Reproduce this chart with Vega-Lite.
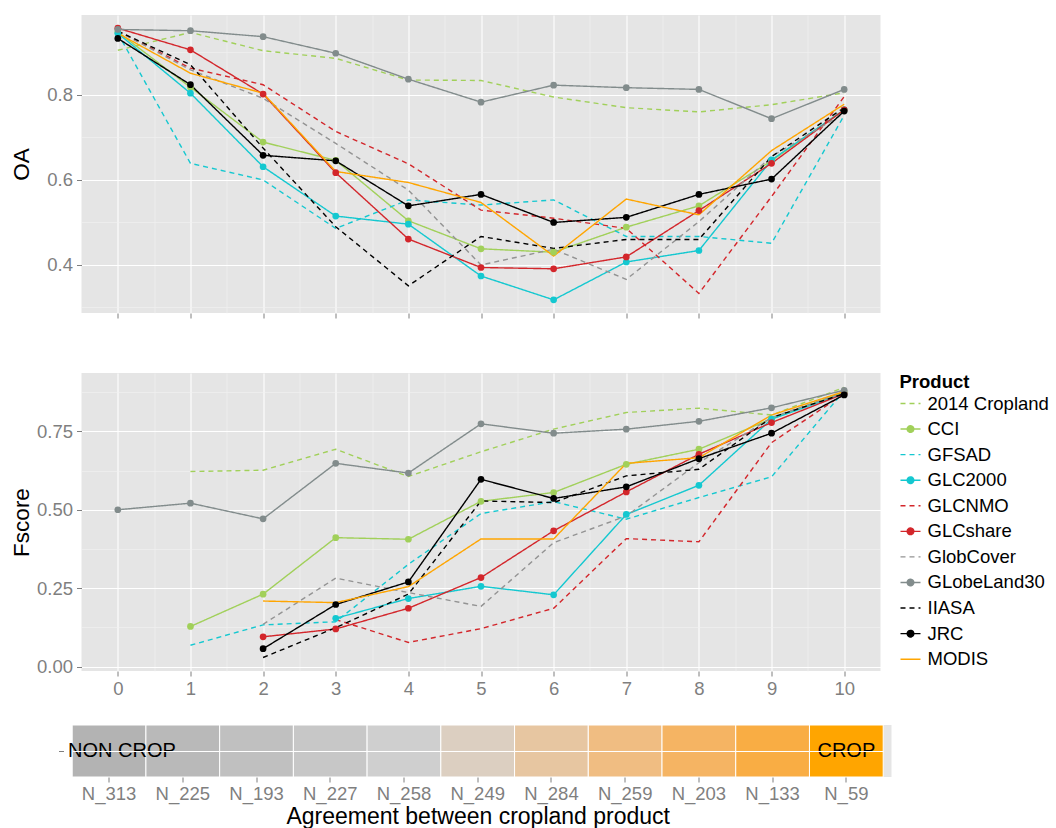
{
  "$schema": "https://vega.github.io/schema/vega-lite/v6.json",
  "padding": {"left": 10.5, "top": 15, "right": 0, "bottom": 0},
  "background": "#ffffff",
  "config": {
    "font": "Liberation Sans",
    "view": {"fill": "#e5e5e5", "stroke": null},
    "axis": {"domain": false, "tickColor": "#7f7f7f", "tickSize": 5, "tickWidth": 1, "labelColor": "#7f7f7f", "labelFontSize": 18.5, "labelFont": "Liberation Sans", "labelPadding": 4, "gridColor": "#ffffff", "gridWidth": 1.1, "titleFont": "Liberation Sans", "titleFontSize": 22.5, "titleFontWeight": "normal", "titleColor": "#000000"},
    "legend": {"titleFont": "Liberation Sans", "titleFontSize": 18.5, "titleFontWeight": "bold", "titleColor": "#000000", "labelFont": "Liberation Sans", "labelFontSize": 18.5, "labelColor": "#000000", "symbolType": "stroke", "symbolSize": 400, "symbolStrokeWidth": 1.4, "rowPadding": 4.57, "titlePadding": 1, "offset": 19, "labelOffset": 6, "padding": 0}
  },
  "datasets": {
    "acc": [
      {"Product": "2014 Cropland", "Agreement": 0, "OA": 0.905, "Fscore": null},
      {"Product": "2014 Cropland", "Agreement": 1, "OA": 0.947, "Fscore": 0.622},
      {"Product": "2014 Cropland", "Agreement": 2, "OA": 0.904, "Fscore": 0.626},
      {"Product": "2014 Cropland", "Agreement": 3, "OA": 0.886, "Fscore": 0.693},
      {"Product": "2014 Cropland", "Agreement": 4, "OA": 0.835, "Fscore": 0.606},
      {"Product": "2014 Cropland", "Agreement": 5, "OA": 0.834, "Fscore": 0.685},
      {"Product": "2014 Cropland", "Agreement": 6, "OA": 0.795, "Fscore": 0.757},
      {"Product": "2014 Cropland", "Agreement": 7, "OA": 0.770, "Fscore": 0.810},
      {"Product": "2014 Cropland", "Agreement": 8, "OA": 0.760, "Fscore": 0.824},
      {"Product": "2014 Cropland", "Agreement": 9, "OA": 0.777, "Fscore": 0.802},
      {"Product": "2014 Cropland", "Agreement": 10, "OA": 0.805, "Fscore": 0.890},
      {"Product": "CCI", "Agreement": 0, "OA": 0.948, "Fscore": null},
      {"Product": "CCI", "Agreement": 1, "OA": 0.818, "Fscore": 0.128},
      {"Product": "CCI", "Agreement": 2, "OA": 0.689, "Fscore": 0.231},
      {"Product": "CCI", "Agreement": 3, "OA": 0.646, "Fscore": 0.411},
      {"Product": "CCI", "Agreement": 4, "OA": 0.504, "Fscore": 0.406},
      {"Product": "CCI", "Agreement": 5, "OA": 0.438, "Fscore": 0.527},
      {"Product": "CCI", "Agreement": 6, "OA": 0.430, "Fscore": 0.555},
      {"Product": "CCI", "Agreement": 7, "OA": 0.489, "Fscore": 0.645},
      {"Product": "CCI", "Agreement": 8, "OA": 0.539, "Fscore": 0.693},
      {"Product": "CCI", "Agreement": 9, "OA": 0.645, "Fscore": 0.790},
      {"Product": "CCI", "Agreement": 10, "OA": 0.765, "Fscore": 0.875},
      {"Product": "GFSAD", "Agreement": 0, "OA": 0.945, "Fscore": null},
      {"Product": "GFSAD", "Agreement": 1, "OA": 0.639, "Fscore": 0.068},
      {"Product": "GFSAD", "Agreement": 2, "OA": 0.600, "Fscore": 0.133},
      {"Product": "GFSAD", "Agreement": 3, "OA": 0.486, "Fscore": 0.143},
      {"Product": "GFSAD", "Agreement": 4, "OA": 0.553, "Fscore": 0.326},
      {"Product": "GFSAD", "Agreement": 5, "OA": 0.541, "Fscore": 0.488},
      {"Product": "GFSAD", "Agreement": 6, "OA": 0.553, "Fscore": 0.526},
      {"Product": "GFSAD", "Agreement": 7, "OA": 0.467, "Fscore": 0.470},
      {"Product": "GFSAD", "Agreement": 8, "OA": 0.467, "Fscore": 0.539},
      {"Product": "GFSAD", "Agreement": 9, "OA": 0.451, "Fscore": 0.605},
      {"Product": "GFSAD", "Agreement": 10, "OA": 0.752, "Fscore": 0.879},
      {"Product": "GLC2000", "Agreement": 0, "OA": 0.945, "Fscore": null},
      {"Product": "GLC2000", "Agreement": 1, "OA": 0.804, "Fscore": null},
      {"Product": "GLC2000", "Agreement": 2, "OA": 0.631, "Fscore": null},
      {"Product": "GLC2000", "Agreement": 3, "OA": 0.515, "Fscore": 0.154},
      {"Product": "GLC2000", "Agreement": 4, "OA": 0.496, "Fscore": 0.217},
      {"Product": "GLC2000", "Agreement": 5, "OA": 0.374, "Fscore": 0.256},
      {"Product": "GLC2000", "Agreement": 6, "OA": 0.318, "Fscore": 0.229},
      {"Product": "GLC2000", "Agreement": 7, "OA": 0.407, "Fscore": 0.485},
      {"Product": "GLC2000", "Agreement": 8, "OA": 0.434, "Fscore": 0.578},
      {"Product": "GLC2000", "Agreement": 9, "OA": 0.647, "Fscore": 0.789},
      {"Product": "GLC2000", "Agreement": 10, "OA": 0.765, "Fscore": 0.870},
      {"Product": "GLCNMO", "Agreement": 0, "OA": 0.950, "Fscore": null},
      {"Product": "GLCNMO", "Agreement": 1, "OA": 0.863, "Fscore": null},
      {"Product": "GLCNMO", "Agreement": 2, "OA": 0.824, "Fscore": null},
      {"Product": "GLCNMO", "Agreement": 3, "OA": 0.714, "Fscore": 0.150},
      {"Product": "GLCNMO", "Agreement": 4, "OA": 0.638, "Fscore": 0.077},
      {"Product": "GLCNMO", "Agreement": 5, "OA": 0.529, "Fscore": 0.121},
      {"Product": "GLCNMO", "Agreement": 6, "OA": 0.510, "Fscore": 0.186},
      {"Product": "GLCNMO", "Agreement": 7, "OA": 0.486, "Fscore": 0.408},
      {"Product": "GLCNMO", "Agreement": 8, "OA": 0.333, "Fscore": 0.398},
      {"Product": "GLCNMO", "Agreement": 9, "OA": 0.561, "Fscore": 0.714},
      {"Product": "GLCNMO", "Agreement": 10, "OA": 0.796, "Fscore": 0.870},
      {"Product": "GLCshare", "Agreement": 0, "OA": 0.957, "Fscore": null},
      {"Product": "GLCshare", "Agreement": 1, "OA": 0.906, "Fscore": null},
      {"Product": "GLCshare", "Agreement": 2, "OA": 0.802, "Fscore": 0.095},
      {"Product": "GLCshare", "Agreement": 3, "OA": 0.617, "Fscore": 0.120},
      {"Product": "GLCshare", "Agreement": 4, "OA": 0.461, "Fscore": 0.186},
      {"Product": "GLCshare", "Agreement": 5, "OA": 0.394, "Fscore": 0.284},
      {"Product": "GLCshare", "Agreement": 6, "OA": 0.391, "Fscore": 0.433},
      {"Product": "GLCshare", "Agreement": 7, "OA": 0.419, "Fscore": 0.557},
      {"Product": "GLCshare", "Agreement": 8, "OA": 0.528, "Fscore": 0.677},
      {"Product": "GLCshare", "Agreement": 9, "OA": 0.639, "Fscore": 0.778},
      {"Product": "GLCshare", "Agreement": 10, "OA": 0.765, "Fscore": 0.870},
      {"Product": "GlobCover", "Agreement": 0, "OA": 0.950, "Fscore": null},
      {"Product": "GlobCover", "Agreement": 1, "OA": 0.859, "Fscore": null},
      {"Product": "GlobCover", "Agreement": 2, "OA": 0.792, "Fscore": 0.135},
      {"Product": "GlobCover", "Agreement": 3, "OA": 0.686, "Fscore": 0.282},
      {"Product": "GlobCover", "Agreement": 4, "OA": 0.576, "Fscore": 0.236},
      {"Product": "GlobCover", "Agreement": 5, "OA": 0.400, "Fscore": 0.192},
      {"Product": "GlobCover", "Agreement": 6, "OA": 0.437, "Fscore": 0.395},
      {"Product": "GlobCover", "Agreement": 7, "OA": 0.366, "Fscore": 0.480},
      {"Product": "GlobCover", "Agreement": 8, "OA": 0.502, "Fscore": 0.650},
      {"Product": "GlobCover", "Agreement": 9, "OA": 0.655, "Fscore": 0.794},
      {"Product": "GlobCover", "Agreement": 10, "OA": 0.757, "Fscore": 0.875},
      {"Product": "GLobeLand30", "Agreement": 0, "OA": 0.954, "Fscore": 0.500},
      {"Product": "GLobeLand30", "Agreement": 1, "OA": 0.951, "Fscore": 0.521},
      {"Product": "GLobeLand30", "Agreement": 2, "OA": 0.937, "Fscore": 0.471},
      {"Product": "GLobeLand30", "Agreement": 3, "OA": 0.898, "Fscore": 0.648},
      {"Product": "GLobeLand30", "Agreement": 4, "OA": 0.837, "Fscore": 0.617},
      {"Product": "GLobeLand30", "Agreement": 5, "OA": 0.783, "Fscore": 0.774},
      {"Product": "GLobeLand30", "Agreement": 6, "OA": 0.823, "Fscore": 0.744},
      {"Product": "GLobeLand30", "Agreement": 7, "OA": 0.817, "Fscore": 0.757},
      {"Product": "GLobeLand30", "Agreement": 8, "OA": 0.813, "Fscore": 0.782},
      {"Product": "GLobeLand30", "Agreement": 9, "OA": 0.744, "Fscore": 0.825},
      {"Product": "GLobeLand30", "Agreement": 10, "OA": 0.813, "Fscore": 0.881},
      {"Product": "IIASA", "Agreement": 0, "OA": 0.950, "Fscore": null},
      {"Product": "IIASA", "Agreement": 1, "OA": 0.871, "Fscore": null},
      {"Product": "IIASA", "Agreement": 2, "OA": 0.675, "Fscore": 0.029},
      {"Product": "IIASA", "Agreement": 3, "OA": 0.490, "Fscore": 0.124},
      {"Product": "IIASA", "Agreement": 4, "OA": 0.351, "Fscore": 0.231},
      {"Product": "IIASA", "Agreement": 5, "OA": 0.467, "Fscore": 0.528},
      {"Product": "IIASA", "Agreement": 6, "OA": 0.439, "Fscore": 0.523},
      {"Product": "IIASA", "Agreement": 7, "OA": 0.460, "Fscore": 0.608},
      {"Product": "IIASA", "Agreement": 8, "OA": 0.460, "Fscore": 0.629},
      {"Product": "IIASA", "Agreement": 9, "OA": 0.655, "Fscore": 0.794},
      {"Product": "IIASA", "Agreement": 10, "OA": 0.770, "Fscore": 0.870},
      {"Product": "JRC", "Agreement": 0, "OA": 0.933, "Fscore": null},
      {"Product": "JRC", "Agreement": 1, "OA": 0.824, "Fscore": null},
      {"Product": "JRC", "Agreement": 2, "OA": 0.658, "Fscore": 0.057},
      {"Product": "JRC", "Agreement": 3, "OA": 0.645, "Fscore": 0.198},
      {"Product": "JRC", "Agreement": 4, "OA": 0.539, "Fscore": 0.270},
      {"Product": "JRC", "Agreement": 5, "OA": 0.566, "Fscore": 0.597},
      {"Product": "JRC", "Agreement": 6, "OA": 0.500, "Fscore": 0.536},
      {"Product": "JRC", "Agreement": 7, "OA": 0.512, "Fscore": 0.573},
      {"Product": "JRC", "Agreement": 8, "OA": 0.566, "Fscore": 0.663},
      {"Product": "JRC", "Agreement": 9, "OA": 0.602, "Fscore": 0.744},
      {"Product": "JRC", "Agreement": 10, "OA": 0.762, "Fscore": 0.866},
      {"Product": "MODIS", "Agreement": 0, "OA": 0.945, "Fscore": null},
      {"Product": "MODIS", "Agreement": 1, "OA": 0.851, "Fscore": null},
      {"Product": "MODIS", "Agreement": 2, "OA": 0.804, "Fscore": 0.209},
      {"Product": "MODIS", "Agreement": 3, "OA": 0.620, "Fscore": 0.204},
      {"Product": "MODIS", "Agreement": 4, "OA": 0.594, "Fscore": 0.255},
      {"Product": "MODIS", "Agreement": 5, "OA": 0.547, "Fscore": 0.407},
      {"Product": "MODIS", "Agreement": 6, "OA": 0.421, "Fscore": 0.407},
      {"Product": "MODIS", "Agreement": 7, "OA": 0.555, "Fscore": 0.648},
      {"Product": "MODIS", "Agreement": 8, "OA": 0.518, "Fscore": 0.666},
      {"Product": "MODIS", "Agreement": 9, "OA": 0.669, "Fscore": 0.802},
      {"Product": "MODIS", "Agreement": 10, "OA": 0.778, "Fscore": 0.877}
    ]
  },
  "spacing": 26,
  "vconcat": [
    {
      "spacing": 54,
      "resolve": {"legend": {"color": "independent", "strokeDash": "independent", "shape": "independent"}},
      "vconcat": [
        {
          "width": 799,
          "height": 298,
          "data": {"name": "acc"},
          "resolve": {"axis": {"x": "independent", "y": "independent"}},
          "layer": [
            {
              "mark": {"type": "point", "opacity": 0},
              "encoding": {
                "x": {"field": "Agreement", "type": "quantitative", "scale": {"domain": [-0.5, 10.5], "nice": false, "zero": false}, "axis": {"orient": "top", "values": [0.5, 1.5, 2.5, 3.5, 4.5, 5.5, 6.5, 7.5, 8.5, 9.5], "grid": true, "gridColor": "#f2f2f2", "gridWidth": 0.6, "labels": false, "ticks": false, "domain": false, "title": null, "minExtent": 0, "maxExtent": 0}},
                "y": {"field": "OA", "type": "quantitative", "scale": {"domain": [0.287, 0.988], "nice": false, "zero": false}, "axis": {"orient": "right", "values": [0.3, 0.5, 0.7, 0.9], "grid": true, "gridColor": "#f2f2f2", "gridWidth": 0.6, "labels": false, "ticks": false, "domain": false, "title": null, "minExtent": 0, "maxExtent": 0}}
              }
            },
            {
              "mark": {"type": "line", "strokeWidth": 1.4},
              "encoding": {
                "x": {"field": "Agreement", "type": "quantitative", "axis": {"orient": "bottom", "values": [0, 1, 2, 3, 4, 5, 6, 7, 8, 9, 10], "labels": false, "grid": true, "title": null}},
                "y": {"field": "OA", "type": "quantitative", "axis": {"orient": "left", "values": [0.4, 0.6, 0.8], "format": ".1f", "grid": true, "title": "OA", "titlePadding": 3, "minExtent": 45, "maxExtent": 45}},
                "color": {"field": "Product", "type": "nominal", "scale": {"domain": ["2014 Cropland", "CCI", "GFSAD", "GLC2000", "GLCNMO", "GLCshare", "GlobCover", "GLobeLand30", "IIASA", "JRC", "MODIS"], "range": ["#a1d05a", "#a1d05a", "#14c8d0", "#14c8d0", "#d3262b", "#d3262b", "#939393", "#828c8c", "#000000", "#000000", "#ffa500"]}, "legend": null},
                "strokeDash": {"field": "Product", "type": "nominal", "scale": {"domain": ["2014 Cropland", "CCI", "GFSAD", "GLC2000", "GLCNMO", "GLCshare", "GlobCover", "GLobeLand30", "IIASA", "JRC", "MODIS"], "range": [[5, 4], [1, 0], [5, 4], [1, 0], [5, 4], [1, 0], [5, 4], [1, 0], [5, 4], [1, 0], [1, 0]]}, "legend": null}
              }
            },
            {
              "transform": [{"filter": {"field": "Product", "oneOf": ["CCI", "GLC2000", "GLCshare", "GLobeLand30", "JRC"]}}],
              "mark": {"type": "point", "filled": true, "size": 45, "opacity": 1},
              "encoding": {
                "x": {"field": "Agreement", "type": "quantitative", "axis": null},
                "y": {"field": "OA", "type": "quantitative", "axis": null},
                "color": {"field": "Product", "type": "nominal", "legend": null}
              }
            }
          ]
        },
        {
          "width": 799,
          "height": 298,
          "data": {"name": "acc"},
          "transform": [{"filter": "datum.Fscore != null"}],
          "resolve": {"axis": {"x": "independent", "y": "independent"}},
          "layer": [
            {
              "mark": {"type": "point", "opacity": 0},
              "encoding": {
                "x": {"field": "Agreement", "type": "quantitative", "scale": {"domain": [-0.5, 10.5], "nice": false, "zero": false}, "axis": {"orient": "top", "values": [0.5, 1.5, 2.5, 3.5, 4.5, 5.5, 6.5, 7.5, 8.5, 9.5], "grid": true, "gridColor": "#f2f2f2", "gridWidth": 0.6, "labels": false, "ticks": false, "domain": false, "title": null, "minExtent": 0, "maxExtent": 0}},
                "y": {"field": "Fscore", "type": "quantitative", "scale": {"domain": [-0.014, 0.936], "nice": false, "zero": false}, "axis": {"orient": "right", "values": [0.125, 0.375, 0.625, 0.875], "grid": true, "gridColor": "#f2f2f2", "gridWidth": 0.6, "labels": false, "ticks": false, "domain": false, "title": null, "minExtent": 0, "maxExtent": 0}}
              }
            },
            {
              "mark": {"type": "line", "strokeWidth": 1.4},
              "encoding": {
                "x": {"field": "Agreement", "type": "quantitative", "axis": {"orient": "bottom", "values": [0, 1, 2, 3, 4, 5, 6, 7, 8, 9, 10], "grid": true, "title": null, "labelPadding": 3}},
                "y": {"field": "Fscore", "type": "quantitative", "axis": {"orient": "left", "values": [0, 0.25, 0.5, 0.75], "format": ".2f", "grid": true, "title": "Fscore", "titlePadding": 3, "minExtent": 45, "maxExtent": 45}},
                "color": {"field": "Product", "type": "nominal", "title": "Product", "scale": {"domain": ["2014 Cropland", "CCI", "GFSAD", "GLC2000", "GLCNMO", "GLCshare", "GlobCover", "GLobeLand30", "IIASA", "JRC", "MODIS"], "range": ["#a1d05a", "#a1d05a", "#14c8d0", "#14c8d0", "#d3262b", "#d3262b", "#939393", "#828c8c", "#000000", "#000000", "#ffa500"]}},
                "strokeDash": {"field": "Product", "type": "nominal", "title": "Product", "scale": {"domain": ["2014 Cropland", "CCI", "GFSAD", "GLC2000", "GLCNMO", "GLCshare", "GlobCover", "GLobeLand30", "IIASA", "JRC", "MODIS"], "range": [[5, 4], [1, 0], [5, 4], [1, 0], [5, 4], [1, 0], [5, 4], [1, 0], [5, 4], [1, 0], [1, 0]]}}
              }
            },
            {
              "transform": [{"filter": {"field": "Product", "oneOf": ["CCI", "GLC2000", "GLCshare", "GLobeLand30", "JRC"]}}],
              "mark": {"type": "point", "filled": true, "size": 45, "opacity": 1},
              "encoding": {
                "x": {"field": "Agreement", "type": "quantitative", "axis": null},
                "y": {"field": "Fscore", "type": "quantitative", "axis": null},
                "color": {"field": "Product", "type": "nominal", "title": "Product"}
              }
            },
            {
              "transform": [{"filter": "false"}],
              "mark": {"type": "point", "filled": true},
              "encoding": {
                "x": {"field": "Agreement", "type": "quantitative", "axis": null},
                "y": {"field": "Fscore", "type": "quantitative", "axis": null},
                "color": {"field": "Product", "type": "nominal", "title": "Product"},
                "strokeDash": {"field": "Product", "type": "nominal", "title": "Product"},
                "shape": {"field": "Product", "type": "nominal", "title": "Product", "scale": {"domain": ["2014 Cropland", "CCI", "GFSAD", "GLC2000", "GLCNMO", "GLCshare", "GlobCover", "GLobeLand30", "IIASA", "JRC", "MODIS"], "range": ["M-1,0H1", "M-1,0H1M0.33,0A0.33,0.33,0,1,1,-0.33,0A0.33,0.33,0,1,1,0.33,0Z", "M-1,0H1", "M-1,0H1M0.33,0A0.33,0.33,0,1,1,-0.33,0A0.33,0.33,0,1,1,0.33,0Z", "M-1,0H1", "M-1,0H1M0.33,0A0.33,0.33,0,1,1,-0.33,0A0.33,0.33,0,1,1,0.33,0Z", "M-1,0H1", "M-1,0H1M0.33,0A0.33,0.33,0,1,1,-0.33,0A0.33,0.33,0,1,1,0.33,0Z", "M-1,0H1", "M-1,0H1M0.33,0A0.33,0.33,0,1,1,-0.33,0A0.33,0.33,0,1,1,0.33,0Z", "M-1,0H1"]},
                  "legend": {"encode": {"symbols": {"update": {"stroke": {"scale": "color", "field": "value"}, "fill": {"scale": "color", "field": "value"}, "strokeWidth": {"value": 1.4}, "opacity": {"value": 1}, "size": {"value": 400}}}}}}
              }
            }
          ]
        }
      ]
    },
    {
      "width": 810,
      "height": 52,
      "data": {"values": [
        {"Agreement": 0, "Label": "N_313", "Band": ""},
        {"Agreement": 1, "Label": "N_225", "Band": ""},
        {"Agreement": 2, "Label": "N_193", "Band": ""},
        {"Agreement": 3, "Label": "N_227", "Band": ""},
        {"Agreement": 4, "Label": "N_258", "Band": ""},
        {"Agreement": 5, "Label": "N_249", "Band": ""},
        {"Agreement": 6, "Label": "N_284", "Band": ""},
        {"Agreement": 7, "Label": "N_259", "Band": ""},
        {"Agreement": 8, "Label": "N_203", "Band": ""},
        {"Agreement": 9, "Label": "N_133", "Band": ""},
        {"Agreement": 10, "Label": "N_59", "Band": ""}
      ]},
      "layer": [
        {
          "mark": {"type": "rect", "stroke": "#ffffff", "strokeWidth": 1},
          "encoding": {
            "x": {"field": "Label", "type": "ordinal", "scale": {"domain": ["N_313", "N_225", "N_193", "N_227", "N_258", "N_249", "N_284", "N_259", "N_203", "N_133", "N_59"], "range": [-9.3, 801.7], "paddingInner": 0, "paddingOuter": 0}, "axis": {"title": "Agreement between cropland product", "titleFontSize": 23, "labelAngle": 0, "labelPadding": 2, "titlePadding": 2.5, "grid": false}},
            "y": {"field": "Band", "type": "nominal", "scale": {"paddingInner": 0, "paddingOuter": 0}, "axis": {"title": null, "labels": false, "ticks": true, "tickSize": 5, "grid": true, "offset": 18}},
            "fill": {"field": "Label", "type": "nominal", "scale": {"domain": ["N_313", "N_225", "N_193", "N_227", "N_258", "N_249", "N_284", "N_259", "N_203", "N_133", "N_59"], "range": ["#b3b3b3", "#b9b9b9", "#c0c0c0", "#c7c7c7", "#cfcfcf", "#dccfc1", "#e7c6a1", "#f0bd82", "#f5b463", "#f9ad44", "#ffa500"]}, "legend": null}
          }
        },
        {
          "data": {"values": [{"Label": "N_313", "Band": "", "Text": "NON CROP"}]},
          "mark": {"type": "text", "align": "left", "dx": -41, "fontSize": 20, "color": "#000000"},
          "encoding": {
            "x": {"field": "Label", "type": "ordinal"},
            "y": {"field": "Band", "type": "nominal"},
            "text": {"field": "Text"}
          }
        },
        {
          "data": {"values": [{"Label": "N_59", "Band": "", "Text": "CROP"}]},
          "mark": {"type": "text", "align": "center", "fontSize": 20, "color": "#000000"},
          "encoding": {
            "x": {"field": "Label", "type": "ordinal"},
            "y": {"field": "Band", "type": "nominal"},
            "text": {"field": "Text"}
          }
        }
      ]
    }
  ]
}
